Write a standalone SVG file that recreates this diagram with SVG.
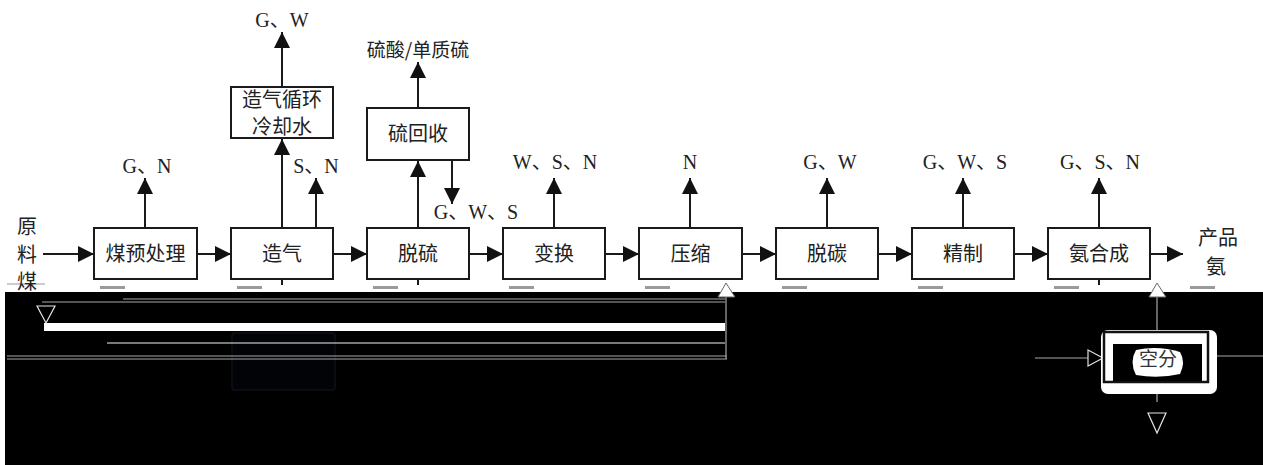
<svg xmlns="http://www.w3.org/2000/svg" width="1263" height="465" viewBox="0 0 1263 465">
<style>
.box{fill:#fff;stroke:#1a1a1a;stroke-width:2}
.ln{fill:none;stroke:#1a1a1a;stroke-width:2}
.cn{font-family:"Noto Sans CJK SC",sans-serif;font-size:20px;fill:#222;text-anchor:middle}
.lb{font-family:"Liberation Serif","Noto Sans CJK SC",serif;font-size:20px;fill:#222;text-anchor:middle}
.gl{fill:none;stroke:#a8a8a8;stroke-width:1.2}
.wl{fill:none;stroke:#f2f2f2;stroke-width:1.2}
.ghost{fill:#9a9a9a}
</style>
<defs>
<marker id="ah" markerUnits="userSpaceOnUse" markerWidth="16" markerHeight="16" refX="16" refY="8" orient="auto">
<path d="M0,0 L16,8 L0,16 z" fill="#111"/>
</marker>
</defs>
<rect width="1263" height="465" fill="#fff"/>

<g id="lower-region">
<rect x="5" y="292" width="1258" height="173" fill="#000"/>
<line x1="7" y1="284" x2="45" y2="284" stroke="#999" stroke-width="1"/>
<rect class="ghost" x="100" y="286" width="25" height="3"/>
<rect class="ghost" x="237" y="286" width="25" height="3"/>
<rect class="ghost" x="373" y="286" width="25" height="3"/>
<rect class="ghost" x="509" y="286" width="25" height="3"/>
<rect class="ghost" x="645" y="286" width="25" height="3"/>
<rect class="ghost" x="782" y="286" width="25" height="3"/>
<rect class="ghost" x="918" y="286" width="25" height="3"/>
<rect class="ghost" x="1054" y="286" width="25" height="3"/>
<rect class="ghost" x="1190" y="286" width="25" height="3"/>
<rect x="232" y="333" width="103" height="57" rx="3" fill="#020306" stroke="#0d111b" stroke-width="1.5"/>
</g>

<g id="connectors">
<line class="ln" x1="43" y1="254" x2="94" y2="254" marker-end="url(#ah)"/>
<line class="ln" x1="197" y1="254" x2="231" y2="254" marker-end="url(#ah)"/>
<line class="ln" x1="333" y1="254" x2="367" y2="254" marker-end="url(#ah)"/>
<line class="ln" x1="469" y1="254" x2="503" y2="254" marker-end="url(#ah)"/>
<line class="ln" x1="605" y1="254" x2="639" y2="254" marker-end="url(#ah)"/>
<line class="ln" x1="742" y1="254" x2="776" y2="254" marker-end="url(#ah)"/>
<line class="ln" x1="878" y1="254" x2="912" y2="254" marker-end="url(#ah)"/>
<line class="ln" x1="1014" y1="254" x2="1048" y2="254" marker-end="url(#ah)"/>
<line class="ln" x1="1150" y1="254" x2="1183" y2="254" marker-end="url(#ah)"/>
<line class="ln" x1="145" y1="228" x2="145" y2="178" marker-end="url(#ah)"/>
<line class="ln" x1="316" y1="228" x2="316" y2="178" marker-end="url(#ah)"/>
<line class="ln" x1="554" y1="228" x2="554" y2="178" marker-end="url(#ah)"/>
<line class="ln" x1="690" y1="228" x2="690" y2="178" marker-end="url(#ah)"/>
<line class="ln" x1="827" y1="228" x2="827" y2="178" marker-end="url(#ah)"/>
<line class="ln" x1="963" y1="228" x2="963" y2="178" marker-end="url(#ah)"/>
<line class="ln" x1="1099" y1="228" x2="1099" y2="178" marker-end="url(#ah)"/>
<line class="ln" x1="282" y1="228" x2="282" y2="139" marker-end="url(#ah)"/>
<line class="ln" x1="282" y1="87" x2="282" y2="32" marker-end="url(#ah)"/>
<line class="ln" x1="418" y1="228" x2="418" y2="161" marker-end="url(#ah)"/>
<line class="ln" x1="418" y1="108" x2="418" y2="62" marker-end="url(#ah)"/>
<line class="ln" x1="452" y1="160" x2="452" y2="204" marker-end="url(#ah)"/>
<line class="ln" x1="282" y1="280" x2="282" y2="285"/>
<line class="ln" x1="418" y1="280" x2="418" y2="285"/>
<line class="ln" x1="1099" y1="280" x2="1099" y2="285"/>

<line class="gl" x1="123" y1="299" x2="725" y2="299"/>
<line class="gl" x1="42" y1="302" x2="725" y2="302"/>
<polygon points="37,306 55,306 46,323" fill="none" stroke="#e6e6e6" stroke-width="1.2"/>
<rect x="44" y="323" width="681" height="8" fill="#fff"/>
<line class="wl" x1="107" y1="343" x2="725" y2="343"/>
<line class="gl" x1="7" y1="356" x2="727" y2="356"/>
<line class="gl" x1="7" y1="359" x2="727" y2="359"/>
<line class="gl" x1="726" y1="297" x2="726" y2="359"/>
<polygon points="718,297 735,297 726,283" fill="#fff" stroke="#666" stroke-width="1"/>

<line class="gl" x1="1157" y1="295" x2="1157" y2="331"/>
<polygon points="1149,297 1166,297 1157,283" fill="#fff" stroke="#666" stroke-width="1"/>
<line class="gl" x1="1035" y1="358" x2="1088" y2="358"/>
<polygon points="1088,350 1103,358 1088,366" fill="#000" stroke="#ddd" stroke-width="1.2"/>
<line class="gl" x1="1217" y1="356" x2="1263" y2="356"/>
<line class="gl" x1="1157" y1="382" x2="1157" y2="402"/>
<polygon points="1148,413 1166,413 1157,433" fill="none" stroke="#e6e6e6" stroke-width="1.2"/>
</g>

<g id="n-coal"><text class="cn" x="27" y="234">原</text><text class="cn" x="27" y="262">料</text><text class="cn" x="27" y="289">煤</text></g>
<g id="n-pre"><rect class="box" x="94" y="228" width="103" height="51"/><text class="cn" x="145.5" y="261">煤预处理</text></g>
<g id="n-gasify"><rect class="box" x="231" y="228" width="102" height="51"/><text class="cn" x="282" y="261">造气</text></g>
<g id="n-desulf"><rect class="box" x="367" y="228" width="102" height="51"/><text class="cn" x="418" y="261">脱硫</text></g>
<g id="n-shift"><rect class="box" x="503" y="228" width="102" height="51"/><text class="cn" x="554" y="261">变换</text></g>
<g id="n-comp"><rect class="box" x="639" y="228" width="103" height="51"/><text class="cn" x="690.5" y="261">压缩</text></g>
<g id="n-decarb"><rect class="box" x="776" y="228" width="102" height="51"/><text class="cn" x="827" y="261">脱碳</text></g>
<g id="n-refine"><rect class="box" x="912" y="228" width="102" height="51"/><text class="cn" x="963" y="261">精制</text></g>
<g id="n-synth"><rect class="box" x="1048" y="228" width="102" height="51"/><text class="cn" x="1099" y="261">氨合成</text></g>
<g id="n-product"><text class="cn" x="1218" y="245">产品</text><text class="cn" x="1216" y="274">氨</text></g>
<g id="n-cooling"><rect class="box" x="231" y="87" width="102" height="51"/><text class="cn" x="282" y="107">造气循环</text><text class="cn" x="282" y="134">冷却水</text></g>
<g id="n-srec"><rect class="box" x="367" y="108" width="102" height="52"/><text class="cn" x="418" y="141">硫回收</text></g>
<g id="n-asu">
<rect x="1101" y="330" width="116" height="64" rx="7" fill="#fff"/>
<rect x="1104" y="332" width="104" height="50" fill="none" stroke="#111" stroke-width="2.5"/>
<rect x="1113" y="344" width="89" height="37" fill="#000"/>
<path d="M1136,350 Q1158,345 1180,352 Q1186,362 1180,374 Q1158,379 1136,375 Q1129,362 1136,350 z" fill="#fff"/>
<text class="cn" x="1158" y="366" style="font-size:19px;fill:#333">空分</text>
</g>

<g id="labels">
<text class="lb" x="282" y="27">G、W</text>
<text class="lb" x="418" y="57" style="font-family:'Noto Sans CJK SC',sans-serif;font-size:19px">硫酸/单质硫</text>
<text class="lb" x="147" y="173">G、N</text>
<text class="lb" x="316" y="173">S、N</text>
<text class="lb" x="476" y="219">G、W、S</text>
<text class="lb" x="555" y="169">W、S、N</text>
<text class="lb" x="690" y="169">N</text>
<text class="lb" x="830" y="169">G、W</text>
<text class="lb" x="965" y="169">G、W、S</text>
<text class="lb" x="1100" y="169">G、S、N</text>
</g>
</svg>
